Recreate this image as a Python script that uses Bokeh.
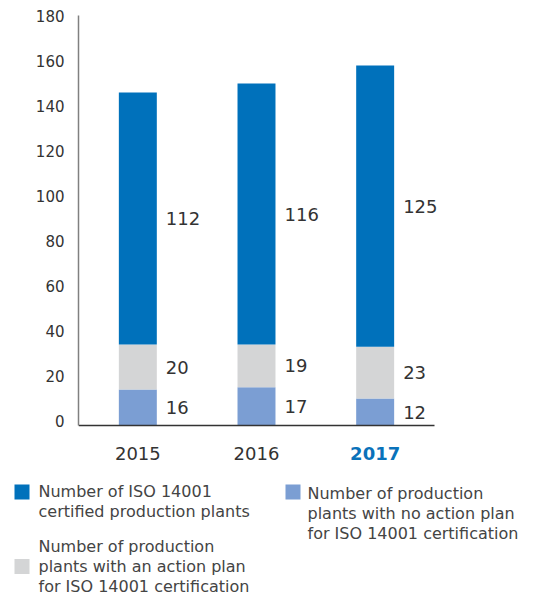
from bokeh.plotting import figure
from bokeh.models import Range1d, FixedTicker
from bokeh.layouts import column
from bokeh.embed import file_html
from bokeh.resources import INLINE
from bokeh.core.properties import value

# ---- data ----
years = ["2015", "2016", "2017"]
certified = [112, 116, 125]
action_plan = [20, 19, 23]
no_plan = [16, 17, 12]
highlight_year = "2017"
y_ticks = [0, 20, 40, 60, 80, 100, 120, 140, 160, 180]
y_max = 180

legend_certified = ["Number of ISO 14001", "certified production plants"]
legend_action = ["Number of production", "plants with an action plan", "for ISO 14001 certification"]
legend_noplan = ["Number of production", "plants with no action plan", "for ISO 14001 certification"]

# ---- styles / layout ----
C_CERT = "#0071bb"
C_ACT = "#d4d5d6"
C_NO = "#7b9ed3"
C_HL = "#0a72ba"
FONT = "DejaVu Sans"
TXT = "#333333"
LEG_TXT = "#444444"

W = 547
CH = 470            # chart canvas height
LH = 125            # legend canvas height
AX_X = 78           # y-axis pixel x
BASE_R = 434        # right end of baseline (pixels)
Y0_PX, YMAX_PX = 425, 20
FRAME_TOP = 8

px_per_unit = (Y0_PX - YMAX_PX) / y_max
px_per_cat = (BASE_R - AX_X) / len(years)
y_start = -(CH - Y0_PX) / px_per_unit
y_end = y_max + (YMAX_PX - FRAME_TOP) / px_per_unit
x_end = (W - AX_X) / px_per_cat
label_shift = 5 / px_per_unit       # tick labels sit just above their gridline value

xs = [i + 0.5 for i in range(len(years))]

p = figure(x_range=Range1d(0, x_end), y_range=Range1d(y_start, y_end),
           width=W, height=CH, output_backend="svg", toolbar_location=None,
           x_axis_location=None, min_border_left=AX_X, min_border_right=0,
           min_border_top=FRAME_TOP, min_border_bottom=0, frame_align=False)
p.outline_line_color = None
p.grid.visible = False

src = dict(x=xs, no_plan=no_plan, action=action_plan, certified=certified)
p.vbar_stack(["no_plan", "action", "certified"], x="x", width=0.32,
             fill_color=[C_NO, C_ACT, C_CERT], line_color=None, source=src)

# value labels at segment centres
lx, ly, lt = [], [], []
for x, n, a, c in zip(xs, no_plan, action_plan, certified):
    for v, cen in ((n, n / 2), (a, n + a / 2), (c, n + a + c / 2)):
        lx.append(x); ly.append(cen); lt.append(str(v))
p.text(x=lx, y=ly, text=lt, x_offset=28, text_align="left", text_baseline="middle",
       text_font=value(FONT), text_font_size="18px", text_color=TXT)

# baseline
p.segment(x0=[0], y0=[0], x1=[len(years)], y1=[0], line_color="#333333", line_width=1.5)

# y axis
ya = p.yaxis[0]
ticks_shifted = [t + label_shift for t in y_ticks]
ya.ticker = FixedTicker(ticks=ticks_shifted)
ya.major_label_overrides = {ts: str(t) for ts, t in zip(ticks_shifted, y_ticks)}
ya.bounds = (0, y_max + label_shift)
ya.major_tick_line_color = None
ya.minor_tick_line_color = None
ya.axis_line_color = "#808080"
ya.axis_line_width = 1.5
ya.major_label_text_font = FONT
ya.major_label_text_font_size = "15px"
ya.major_label_text_color = TXT
ya.major_label_standoff = 8

# year labels
YEAR_Y = -28 / px_per_unit
norm_x = [x for x, y in zip(xs, years) if y != highlight_year]
norm_t = [y for y in years if y != highlight_year]
hl_x = [x for x, y in zip(xs, years) if y == highlight_year]
p.text(x=norm_x, y=[YEAR_Y] * len(norm_x), text=norm_t, text_align="center", text_baseline="middle",
       text_font=value(FONT), text_font_size="18px", text_color=TXT)
p.text(x=hl_x, y=[YEAR_Y] * len(hl_x), text=[highlight_year] * len(hl_x), text_align="center",
       text_baseline="middle", text_font=value(FONT), text_font_size="18px",
       text_font_style="bold", text_color=C_HL)

# ---- legend figure in pixel coordinates (y downward) ----
q = figure(width=W, height=LH, x_range=Range1d(0, W), y_range=Range1d(LH, 0),
           x_axis_location=None, y_axis_location=None, min_border=0,
           toolbar_location=None, output_backend="svg", frame_align=False)
q.outline_line_color = None
q.grid.visible = False

q.rect(x=[21.5, 292.5, 21.5], y=[21.5, 21.5, 96], width=15, height=15,
       fill_color=[C_CERT, C_NO, C_ACT], line_color=None)

def block(lines, x0, y0, step=20):
    q.text(x=[x0] * len(lines), y=[y0 + i * step for i in range(len(lines))], text=lines,
           text_align="left", text_baseline="middle", text_font=value(FONT),
           text_font_size="16px", text_color=LEG_TXT)

block(legend_certified, 38, 21)
block(legend_noplan, 307, 23)
block(legend_action, 38, 76)

open("out.html", "w").write(file_html(column(p, q), INLINE))
